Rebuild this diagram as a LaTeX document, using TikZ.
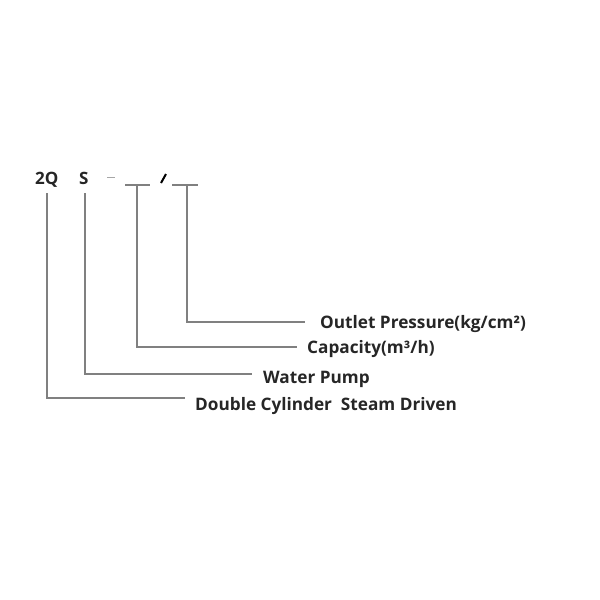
\documentclass[tikz,border=0pt]{standalone}
\usepackage{fontspec}
\setmainfont{Open Sans}
\begin{document}
\begin{tikzpicture}[x=1pt,y=-1pt,
  lead/.style={draw=black!50,line width=1.1pt},
  lbl/.style={anchor=base west,inner sep=0pt,font=\bfseries\fontsize{17.2}{20}\selectfont,text=black!85},
  code/.style={anchor=base west,inner sep=0pt,font=\bfseries\fontsize{17}{20}\selectfont,text=black!85}]
\useasboundingbox[fill=white] (0,0) rectangle (600,600);
% top code
\node[code] (c2q) at (35,184) {2Q};
\node[code] (cs) at (79,184) {S};
\coordinate (dashA) at (107,177);
\coordinate (dashB) at (115,177);
\draw[draw=black!35,line width=1pt] (dashA) -- (dashB);
\coordinate (b1L) at (125,185);
\coordinate (b1R) at (150,185);
\coordinate (b2L) at (172,185);
\coordinate (b2R) at (198,185);
\draw[lead] (b1L) -- (b1R);
\draw[lead] (b2L) -- (b2R);
\coordinate (slA) at (161,183);
\coordinate (slB) at (166,174);
\draw[black,line width=2pt] (slA) -- (slB);
% labels
\node[lbl] (out) at (320,328) {Outlet Pressure(kg/cm²)};
\node[lbl] (cap) at (307,353) {Capacity(m³/h)};
\node[lbl] (wat) at (263,383) {Water Pump};
\node[lbl] (dbl) at (195,410) {Double Cylinder\ \ Steam Driven};
% leaders
\coordinate (t2q) at (47,193);
\coordinate (ts) at (85,193);
\coordinate (t1) at (137,185);
\coordinate (t2) at (187,185);
\draw[lead] (t2) |- (305,322);
\draw[lead] (t1) |- (297,347);
\draw[lead] (ts) |- (252,374);
\draw[lead] (t2q) |- (185,398);
\end{tikzpicture}
\end{document}
